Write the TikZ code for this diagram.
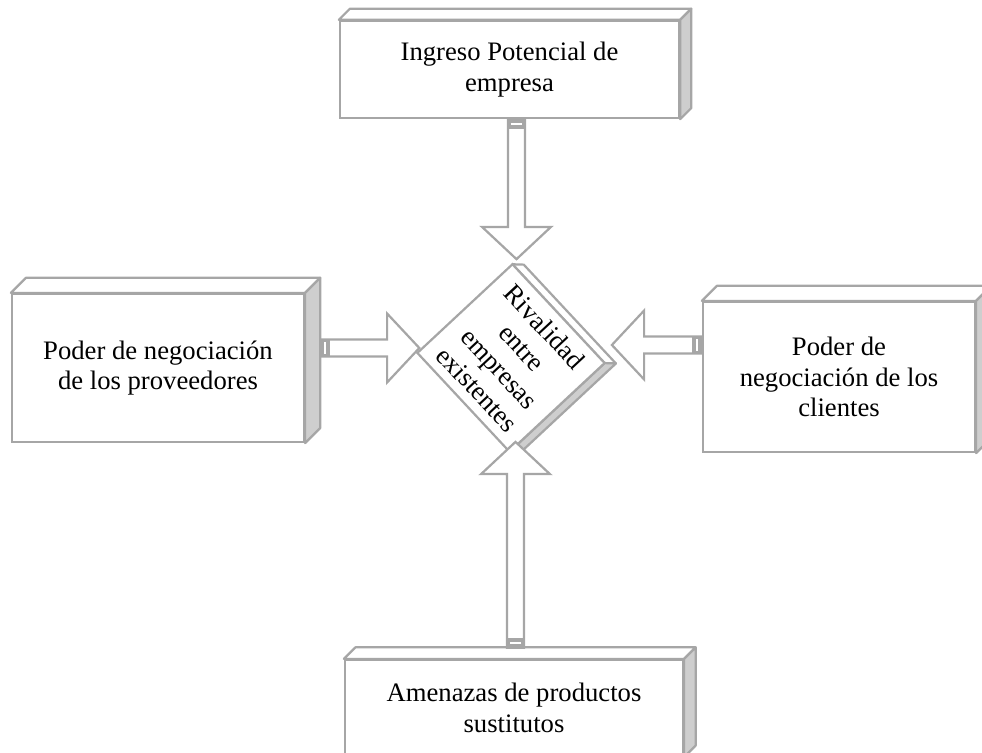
\documentclass[tikz,border=0pt]{standalone}
\usepackage{fontspec}
\setmainfont{Liberation Serif}
\usetikzlibrary{calc}
\definecolor{linea}{RGB}{166,166,166}
\definecolor{relleno}{RGB}{206,206,206}
\tikzstyle{every node}=[font=\fontsize{12}{13.8}\selectfont]
\tikzstyle{caja}=[draw=linea, fill=white, line width=1pt, align=center, inner sep=0pt]
\tikzstyle{cara}=[draw=linea, fill=white, line width=1pt, line join=round]
\tikzstyle{lado}=[draw=linea, fill=relleno, line width=1pt, line join=round]
\tikzstyle{flecha}=[draw=linea, fill=white, line width=1pt]
% caja con cara superior y lado gris
\def\cubo#1#2{%
  \draw[cara] (#1.north west) -- ++(#2,#2) -- ([shift={(#2,#2)}]#1.north east) -- (#1.north east) -- cycle;
  \draw[lado] (#1.north east) -- ++(#2,#2) -- ([shift={(#2,#2)}]#1.south east) -- (#1.south east) -- cycle;
}
% flecha de bloque: punto, angulo, largo
\def\flecha#1#2#3{%
  \begin{scope}[shift={#1},rotate=#2]
    \draw[flecha] (0pt,3.8pt) -- ({#3-14.5pt},3.8pt) -- ({#3-14.5pt},15.5pt) -- (#3,0pt)
      -- ({#3-14.5pt},-15.5pt) -- ({#3-14.5pt},-3.8pt) -- (0pt,-3.8pt) -- cycle;
    \fill[linea] (0pt,-3.8pt) rectangle (4.5pt,3.8pt);
    \draw[white, line width=0.8pt] (2.25pt,-2.6pt) -- (2.25pt,2.6pt);
  \end{scope}}

\begin{document}
\begin{tikzpicture}[x=0.45pt, y=-0.45pt]
\useasboundingbox (0,0) rectangle (982,753);

% las cinco fuerzas
\node[caja, minimum width=152.6pt, minimum height=43.7pt] (ingreso) at (509.5,69.5) {Ingreso Potencial de\\empresa};
\cubo{ingreso}{5pt}
\node[caja, minimum width=131.4pt, minimum height=66.6pt] (proveedores) at (158,368) {Poder de negociación\\de los proveedores};
\cubo{proveedores}{6.8pt}
\node[caja, minimum width=122.4pt, minimum height=67.5pt] (clientes) at (839,377) {Poder de\\negociación de los\\clientes};
\cubo{clientes}{6.8pt}
\node[caja, minimum width=152.1pt, minimum height=43.2pt] (sustitutos) at (514,708) {Amenazas de productos\\sustitutos};
\cubo{sustitutos}{5.2pt}

% rombo central
\begin{scope}[shift={(511,358)}, rotate=-47]
  \draw[cara] (-30.4pt,29.25pt) -- (-26.8pt,32.85pt) -- (34pt,32.85pt) -- (30.4pt,29.25pt) -- cycle;
  \draw[lado] (30.4pt,29.25pt) -- (34pt,32.85pt) -- (34pt,-25.65pt) -- (30.4pt,-29.25pt) -- cycle;
  \node[caja, transform shape, minimum width=60.8pt, minimum height=58.5pt] (rivalidad) at (0,0) {Rivalidad\\entre\\empresas\\existentes};
\end{scope}

% flechas hacia el centro
\flecha{($(ingreso.south)+(7,0)$)}{-90}{63pt}
\flecha{($(proveedores.east)+(0,-20)+(6.8pt,0pt)$)}{0}{44.6pt}
\flecha{($(clientes.west)+(0,-32)$)}{180}{40.5pt}
\flecha{($(sustitutos.north)+(1.5,-11)$)}{90}{92.7pt}

\end{tikzpicture}
\end{document}
